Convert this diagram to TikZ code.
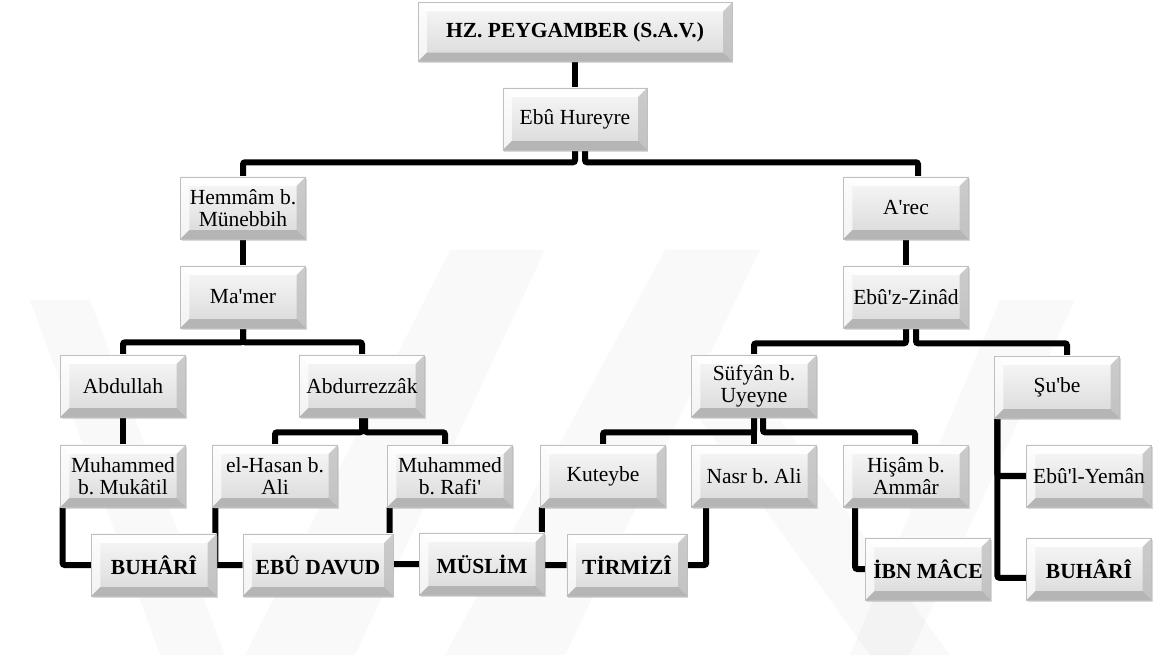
\documentclass[tikz,border=0pt]{standalone}
\usepackage{fontspec}
\setmainfont{Liberation Serif}[Ligatures=TeXOff]
\usetikzlibrary{positioning, shadows, backgrounds}
\frenchspacing

\begin{document}
\begin{tikzpicture}[
            x=0.025cm, y=-0.025cm,
            bevel/.style={path picture={
                \path (path picture bounding box.north west) coordinate (bnw)
                      (path picture bounding box.north east) coordinate (bne)
                      (path picture bounding box.south east) coordinate (bse)
                      (path picture bounding box.south west) coordinate (bsw);
                \path ([shift={(0.22cm,-0.22cm)}]bnw) coordinate (inw)
                      ([shift={(-0.22cm,-0.22cm)}]bne) coordinate (ine)
                      ([shift={(-0.22cm,0.22cm)}]bse) coordinate (ise)
                      ([shift={(0.22cm,0.22cm)}]bsw) coordinate (isw);
                \fill[white, opacity=0.95] (bnw) -- (bne) -- (ine) -- (inw) -- cycle;
                \fill[white, opacity=0.7] (bnw) -- (inw) -- (isw) -- (bsw) -- cycle;
                \fill[gray!55, opacity=0.7] (bne) -- (bse) -- (ise) -- (ine) -- cycle;
                \fill[gray!65, opacity=0.8] (bsw) -- (isw) -- (ise) -- (bse) -- cycle;
            }},
            person/.style={draw=gray!50, line width=0.4pt, align=center,
                minimum width=3.125cm, minimum height=1.55cm, inner sep=2pt,
                top color=gray!5, bottom color=gray!30,
                drop shadow={shadow xshift=0.8pt, shadow yshift=-1.2pt, opacity=0.3},
                font=\fontsize{15.3}{15.6}\selectfont, bevel},
            imam/.style={person, font=\fontsize{15.3}{15.6}\selectfont\bfseries},
            link/.style={line width=0.15cm, rounded corners=1.5pt},
        ]
            \useasboundingbox (0,0) rectangle (1159,662);

            \node[imam, minimum width=7.85cm, minimum height=1.475cm] (root) at (575,32) {HZ. PEYGAMBER (S.A.V.)};
            \node[person, minimum width=3.6cm] (ebu) at (575,119) {Ebû Hureyre};

            \node[person] (hemmam) at (243,208) {Hemmâm b.\\Münebbih};
            \node[person] (mamer) at (243,297) {Ma'mer};
            \node[person] (arec) at (906,208) {A'rec};
            \node[person] (zinad) at (906,297) {Ebû'z-Zinâd};

            \node[person] (abdullah) at (123,386) {Abdullah};
            \node[person] (abdurrezzak) at (362,386) {Abdurrezzâk};
            \node[person] (sufyan) at (754,386) {Süfyân b.\\Uyeyne};
            \node[person] (sube) at (1057,387) {Şu'be};

            \node[person] (mukatil) at (123,476) {Muhammed\\b. Mukâtil};
            \node[person] (hasan) at (275,476) {el-Hasan b.\\Ali};
            \node[person] (rafi) at (450,476) {Muhammed\\b. Rafi'};
            \node[person] (kuteybe) at (603,476) {Kuteybe};
            \node[person] (nasr) at (754,476) {Nasr b. Ali};
            \node[person] (hisam) at (906,476) {Hişâm b.\\Ammâr};
            \node[person] (yeman) at (1089,476) {Ebû'l-Yemân};

            \node[imam] (buhari) at (154,565) {BUHÂRÎ};
            \node[imam, minimum width=3.75cm] (davud) at (318,565) {EBÛ DAVUD};
            \node[imam] (muslim) at (482,564) {MÜSLİM};
            \node[imam, minimum width=3cm] (tirmizi) at (627,565) {TİRMİZÎ};
            \node[imam] (ibnmace) at (928,569) {İBN MÂCE};
            \node[imam] (buhariB) at (1089,569) {BUHÂRÎ};

            \begin{scope}[on background layer]
                \fill[black, opacity=0.025] (30,300) -- (90,300) -- (225,655) -- (160,655) -- cycle;
                \fill[black, opacity=0.025] (245,655) -- (355,655) -- (545,250) -- (450,250) -- cycle;
                \fill[black, opacity=0.025] (445,655) -- (565,655) -- (760,250) -- (665,250) -- cycle;
                \fill[black, opacity=0.025] (700,420) -- (780,420) -- (950,655) -- (870,655) -- cycle;
                \fill[black, opacity=0.025] (850,655) -- (910,655) -- (1075,300) -- (1000,300) -- cycle;

                \draw[link] (root) -- (ebu);
                \draw[link] (ebu.south) -- ++(0,12) -| (hemmam.north);
                \draw[link] ([xshift=0.25cm]ebu.south) -- ++(0,12) -| ([xshift=0.3cm]arec.north);
                \draw[link] (hemmam) -- (mamer);
                \draw[link] (mamer.south) -- ++(0,14) -| (abdullah.north);
                \draw[link] (mamer.south) -- ++(0,14) -| (abdurrezzak.north);
                \draw[link] (arec) -- (zinad);
                \draw[link] (zinad.south) -- ++(0,15) -| (sufyan.north);
                \draw[link] ([xshift=0.25cm]zinad.south) -- ++(0,15) -| ([xshift=0.25cm]sube.north);
                \draw[link] (abdullah) -- (mukatil);
                \draw[link] (abdurrezzak.south) -- ++(0,15) -| (hasan.north);
                \draw[link] ([xshift=0.08cm]abdurrezzak.south) -- ++(0,15) -| ([xshift=-0.125cm]rafi.north);
                \draw[link] (sufyan.south) -- ++(0,15) -| (kuteybe.north);
                \draw[link] (sufyan.south) -- ++(0,15) -| (nasr.north);
                \draw[link] ([xshift=0.225cm]sufyan.south) -- ++(0,15) -| ([xshift=0.225cm]hisam.north);

                \draw[link] ([xshift=0.06cm]mukatil.south west) |- (buhari.west);
                \draw[link] ([xshift=0.08cm]hasan.south west) |- (davud.west);
                \draw[link] ([xshift=0.06cm]rafi.south west) |- (muslim.west);
                \draw[link] ([xshift=0.04cm]kuteybe.south west) |- (tirmizi.west);
                \draw[link] ([xshift=0.375cm]nasr.south west) |- (tirmizi.east);
                \draw[link] ([xshift=0.3cm]hisam.south west) |- (ibnmace.west);
                \draw[link] ([xshift=0.08cm]sube.south west) |- (yeman.west);
                \draw[link] ([xshift=0.08cm]sube.south west) |- ([yshift=-0.22cm]buhariB.west);
            \end{scope}
        \end{tikzpicture}
\end{document}
